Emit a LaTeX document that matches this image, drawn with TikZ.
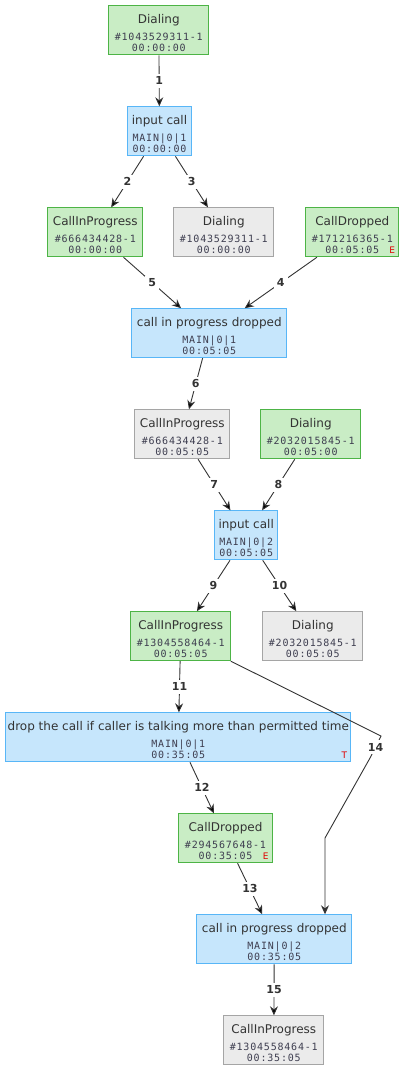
\documentclass[tikz,border=0pt]{standalone}
\usepackage{fontspec}
\setsansfont{DejaVu Sans}
\newfontfamily\monofont[LetterSpace=8]{DejaVu Sans Mono}
\usetikzlibrary{arrows.meta}
\definecolor{okfill}{HTML}{C9EDC5}
\definecolor{okline}{HTML}{4DB446}
\definecolor{evfill}{HTML}{C6E6FC}
\definecolor{evline}{HTML}{58B6F7}
\definecolor{oldfill}{HTML}{EBEBEB}
\definecolor{oldline}{HTML}{A5A5A5}
\definecolor{txtcol}{HTML}{333333}
\definecolor{subcol}{HTML}{3E3E50}
\definecolor{flagred}{HTML}{E00000}
\tikzset{
  box/.style={rectangle,draw,line width=1pt,inner sep=0pt,minimum height=49pt},
  okbox/.style={box,fill=okfill,draw=okline},
  evbox/.style={box,fill=evfill,draw=evline},
  oldbox/.style={box,fill=oldfill,draw=oldline},
  ttl/.style={font=\sffamily\fontsize{12}{14}\selectfont,text=txtcol,inner sep=0pt,anchor=base},
  subtext/.style={font=\monofont\fontsize{10}{12}\selectfont,text=subcol,inner sep=0pt,anchor=base},
  flag/.style={font=\sffamily\fontsize{9}{11}\selectfont,text=flagred,inner sep=0pt,anchor=base east},
  lbl/.style={font=\sffamily\bfseries\fontsize{11}{13}\selectfont,text=txtcol,fill=white,inner sep=3pt},
  link/.style={-{Stealth[length=9pt,width=8pt,inset=3pt]},line width=0.9pt,draw=txtcol},
}
% box with title, id line and time line
\newcommand{\evstate}[8]{%
  \node[#2,minimum width=#5] (#1) at (#3,#4) {};
  \node[ttl] (#1t) at ([yshift=-18.5pt]#1.north) {#6};
  \node[subtext] (#1i) at ([yshift=-35pt]#1.north) {#7};
  \node[subtext] (#1s) at ([yshift=-46pt]#1.north) {#8};
}

\begin{document}
\begin{tikzpicture}[x=1pt,y=-1pt]
\useasboundingbox (0,0) rectangle (405,1071);
% \draw[help lines,step=50] (0,0) grid (405,1071);
\evstate{dial1}{okbox}{158.8}{30.3}{100}{Dialing}{\#1043529311-1}{00:00:00}
\evstate{inp1}{evbox}{159.5}{131.3}{63.5}{input call}{MAIN|0|1}{00:00:00}
\evstate{prog1}{okbox}{95.3}{232.3}{95}{CallInProgress}{\#666434428-1}{00:00:00}
\evstate{dial2}{oldbox}{223.8}{232.3}{100}{Dialing}{\#1043529311-1}{00:00:00}
\evstate{drop1}{okbox}{352.3}{232.3}{93}{CallDropped}{\#171216365-1}{00:05:05}
\evstate{pdrop1}{evbox}{209.3}{333.2}{155}{call in progress dropped}{MAIN|0|1}{00:05:05}
\evstate{prog2}{oldbox}{182.3}{434.3}{95}{CallInProgress}{\#666434428-1}{00:05:05}
\evstate{dial3}{okbox}{310.7}{434.3}{100}{Dialing}{\#2032015845-1}{00:05:00}
\evstate{inp2}{evbox}{246.2}{535.3}{63.5}{input call}{MAIN|0|2}{00:05:05}
\evstate{prog3}{okbox}{180.7}{636.2}{100}{CallInProgress}{\#1304558464-1}{00:05:05}
\evstate{dial4}{oldbox}{312.8}{636.2}{100}{Dialing}{\#2032015845-1}{00:05:05}
\evstate{timer}{evbox}{178.3}{737.3}{345}{drop the call if caller is talking more than permitted time}{MAIN|0|1}{00:35:05}
\evstate{drop2}{okbox}{225.5}{838.3}{93.5}{CallDropped}{\#294567648-1}{00:35:05}
\evstate{pdrop2}{evbox}{274.3}{939.3}{155}{call in progress dropped}{MAIN|0|2}{00:35:05}
\evstate{prog4}{oldbox}{273.8}{1040.3}{100}{CallInProgress}{\#1304558464-1}{00:35:05}
%
\node[flag] (drop1f) at ([xshift=-4pt,yshift=3.8pt]drop1.south east) {E};
\node[flag] (drop2f) at ([xshift=-4pt,yshift=3.8pt]drop2.south east) {E};
\node[flag] (timerf) at ([xshift=-4pt,yshift=3.8pt]timer.south east) {T};
%
\coordinate (k14a) at (381,736);
\coordinate (k14b) at (370,758);
\coordinate (k14c) at (325,838);
%
\path[link] (dial1) edge node[lbl] {1} (inp1);
\path[link] (inp1) edge node[lbl] {2} (prog1);
\path[link] (inp1) edge node[lbl] {3} (dial2);
\path[link] (drop1) edge node[lbl] {4} (pdrop1);
\path[link] (prog1) edge node[lbl] {5} (pdrop1);
\path[link] (pdrop1) edge node[lbl] {6} (prog2);
\path[link] (prog2) edge node[lbl] {7} (inp2);
\path[link] (dial3) edge node[lbl] {8} (inp2);
\path[link] (inp2) edge node[lbl] {9} (prog3);
\path[link] (inp2) edge node[lbl] {10} (dial4);
\path[link] (prog3) edge node[lbl] {11} (timer);
\path[link] (timer) edge node[lbl] {12} (drop2);
\path[link] (drop2) edge node[lbl] {13} (pdrop2);
\draw[link] (prog3) -- (k14a) -- node[lbl] {14} (k14b) -- (k14c) -- (k14c |- pdrop2.north);
\path[link] (pdrop2) edge node[lbl] {15} (prog4);
\end{tikzpicture}
\end{document}
